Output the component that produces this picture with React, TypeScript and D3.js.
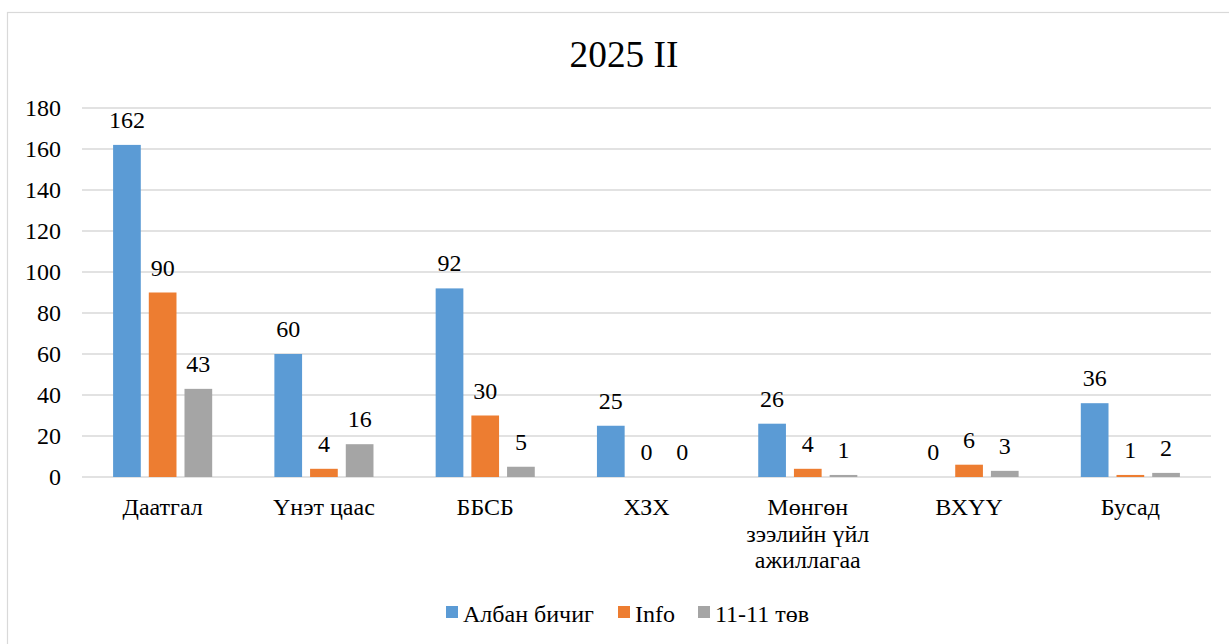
import React from "react";
import * as d3 from "d3";

const title = "2025 II";
const categories = [
  "Даатгал",
  "Үнэт цаас",
  "ББСБ",
  "ХЗХ",
  "Мөнгөн зээлийн үйл ажиллагаа",
  "ВХҮҮ",
  "Бусад",
];
const seriesNames = ["Албан бичиг", "Info", "11-11 төв"];
const albanBichig = [162, 60, 92, 25, 26, 0, 36];
const info = [90, 4, 30, 0, 4, 6, 1];
const center1111 = [43, 16, 5, 0, 1, 3, 2];
const yTicks = [0, 20, 40, 60, 80, 100, 120, 140, 160, 180];
const colors = ["#5B9BD5", "#ED7D31", "#A5A5A5"];

const W = 1229;
const H = 644;
const FONT = "Liberation Serif";
const FS = 24; // 18pt
const TITLE_FS = 37.33; // 28pt

const plot = { left: 82, right: 1211, top: 108, bottom: 477 };

const textStyle = { fontFamily: FONT, fontSize: FS, fill: "#000" };

function wrapLabel(text: string, maxWidth: number): string[] {
  const canvas = document.createElement("canvas");
  const ctx = canvas.getContext("2d")!;
  ctx.font = `${FS}px "${FONT}"`;
  const words = text.split(" ");
  const lines: string[] = [];
  let cur = "";
  for (const w of words) {
    const next = cur ? cur + " " + w : w;
    if (cur && ctx.measureText(next).width > maxWidth) {
      lines.push(cur);
      cur = w;
    } else {
      cur = next;
    }
  }
  if (cur) lines.push(cur);
  return lines;
}

export default function App() {
  const series = [albanBichig, info, center1111];

  const x0 = d3.scaleBand<string>().domain(categories).range([plot.left, plot.right]).padding(0);
  const step = 35.7;
  const gap = 8;
  const x1 = d3
    .scaleBand<string>()
    .domain(seriesNames)
    .range([-1.5 * step, 1.5 * step])
    .paddingInner(gap / step)
    .paddingOuter(gap / step / 2);
  const y = d3.scaleLinear().domain([0, 180]).range([plot.bottom, plot.top]);

  const legendItems = [
    { name: seriesNames[0], x: 446 },
    { name: seriesNames[1], x: 618 },
    { name: seriesNames[2], x: 698 },
  ];

  return (
    <svg
      width={W}
      height={H}
      style={{ position: "absolute", left: 0, top: 0, display: "block", background: "#fff", fontFamily: FONT }}
    >
      <rect x={7.5} y={12.5} width={1240} height={700} fill="#fff" stroke="#d9d9d9" strokeWidth={1.2} />
      <text x={624} y={66.5} textAnchor="middle" style={{ ...textStyle, fontSize: TITLE_FS }}>
        {title}
      </text>

      {/* gridlines and y tick labels */}
      {yTicks.map((t) => (
        <g key={t}>
          <line x1={plot.left} x2={plot.right} y1={y(t)} y2={y(t)} stroke="#d9d9d9" strokeWidth={1.5} />
          <text x={61} y={y(t) + 8} textAnchor="end" style={textStyle}>
            {t}
          </text>
        </g>
      ))}

      {/* bars and value labels */}
      {categories.map((c, ci) => {
        const cx = x0(c)! + x0.bandwidth() / 2;
        return (
          <g key={c}>
            {series.map((vals, si) => {
              const v = vals[ci];
              const bx = cx + x1(seriesNames[si])!;
              const bw = x1.bandwidth();
              return (
                <g key={si}>
                  {v > 0 && <rect x={bx} y={y(v)} width={bw} height={y(0) - y(v)} fill={colors[si]} />}
                  <text x={bx + bw / 2} y={y(v) - 17} textAnchor="middle" style={textStyle}>
                    {v}
                  </text>
                </g>
              );
            })}
            {wrapLabel(c, 135).map((line, li) => (
              <text key={li} x={cx} y={plot.bottom + 38 + li * 26.5} textAnchor="middle" style={textStyle}>
                {line}
              </text>
            ))}
          </g>
        );
      })}

      {/* legend */}
      {legendItems.map((it, i) => (
        <g key={it.name}>
          <rect x={it.x} y={606} width={12} height={12} fill={colors[i]} />
          <text x={it.x + 17} y={622} style={textStyle}>
            {it.name}
          </text>
        </g>
      ))}
    </svg>
  );
}
